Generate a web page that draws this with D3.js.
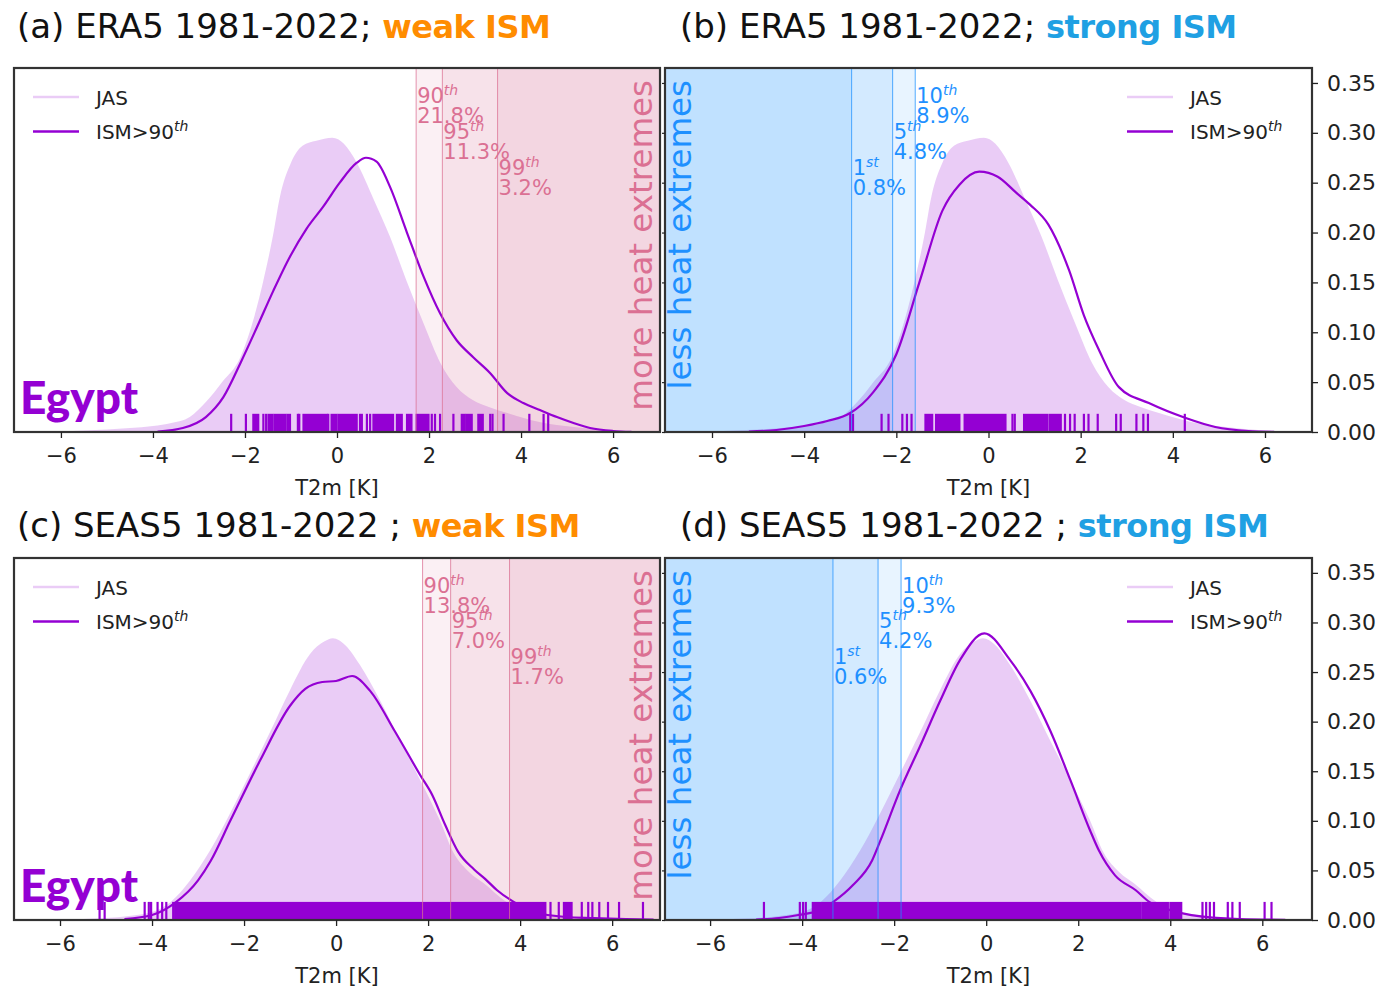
<!DOCTYPE html>
<html>
<head>
<meta charset="utf-8">
<script src="https://cdn.jsdelivr.net/npm/d3@7"></script>
<style>
  html, body { margin: 0; padding: 0; background: #fff; }
  svg { display: block; }
</style>
</head>
<body>
<svg id="chart" width="1384" height="995"></svg>
<script>
// ---------------- data ----------------
const xTicks = [-6, -4, -2, 0, 2, 4, 6];
const yTicks = [0, 0.05, 0.10, 0.15, 0.20, 0.25, 0.30, 0.35];

const titleDatasets = ["(a) ERA5 1981-2022; ", "(b) ERA5 1981-2022; ", "(c) SEAS5 1981-2022 ; ", "(d) SEAS5 1981-2022 ; "];
const titleRegimes = ["weak ISM", "strong ISM", "weak ISM", "strong ISM"];
const regionName = "Egypt";
const legendLabels = ["JAS", "ISM>90"];
const xLabel = "T2m [K]";

// ERA5 JAS T2m anomaly density (panels a, b)
const era5JasT = [-6.5, -6.0, -5.5, -5.0, -4.5, -4.0, -3.6, -3.2, -2.85, -2.5, -2.1, -1.9, -1.6, -1.4, -1.24, -1.0, -0.75, -0.45, -0.1, 0.15, 0.43, 0.8, 1.15, 1.5, 1.88, 2.25, 2.6, 2.95, 3.3, 3.7, 4.4, 5.15, 5.85, 6.5];
const era5JasDensity = [0.0003, 0.0008, 0.0015, 0.0025, 0.004, 0.006, 0.009, 0.015, 0.03, 0.05, 0.075, 0.10, 0.152, 0.195, 0.236, 0.27, 0.287, 0.292, 0.295, 0.289, 0.27, 0.233, 0.196, 0.153, 0.109, 0.069, 0.045, 0.032, 0.025, 0.019, 0.010, 0.005, 0.002, 0.0005];

// ERA5, weak ISM years
const era5WeakT = [-3.9, -3.35, -2.85, -2.47, -2.1, -1.74, -1.38, -1.02, -0.66, -0.3, 0.06, 0.43, 0.63, 0.86, 1.15, 1.52, 1.88, 2.24, 2.6, 2.96, 3.33, 3.7, 4.05, 4.41, 4.78, 5.14, 5.5, 6.0, 6.4];
const era5WeakDensity = [0.0005, 0.004, 0.015, 0.035, 0.069, 0.105, 0.142, 0.176, 0.204, 0.226, 0.25, 0.27, 0.275, 0.271, 0.246, 0.2, 0.156, 0.119, 0.092, 0.075, 0.059, 0.039, 0.029, 0.022, 0.015, 0.009, 0.004, 0.001, 0.0002];

// ERA5, strong ISM years
const era5StrongT = [-5.2, -4.6, -4.0, -3.5, -3.0, -2.5, -2.0, -1.5, -1.0, -0.63, -0.2, 0.2, 0.6, 0.9, 1.3, 1.75, 2.07, 2.4, 2.83, 3.48, 4.28, 4.92, 5.64, 6.2];
const era5StrongDensity = [0.0005, 0.002, 0.006, 0.011, 0.019, 0.04, 0.078, 0.15, 0.222, 0.248, 0.261, 0.256, 0.24, 0.228, 0.208, 0.162, 0.117, 0.082, 0.045, 0.029, 0.014, 0.005, 0.001, 0.0002];

// SEAS5 JAS T2m anomaly density (panels c, d)
const seas5JasT = [-6.5, -5.5, -5.0, -4.5, -4.0, -3.6, -3.17, -2.74, -2.3, -1.87, -1.43, -1.0, -0.57, -0.25, -0.07, 0.2, 0.52, 0.96, 1.39, 1.83, 2.26, 2.55, 2.9, 3.21, 3.71, 4.2, 5.0, 6.0, 6.8];
const seas5JasDensity = [0.0003, 0.001, 0.002, 0.004, 0.008, 0.018, 0.04, 0.07, 0.108, 0.148, 0.19, 0.232, 0.268, 0.281, 0.284, 0.277, 0.257, 0.221, 0.181, 0.141, 0.10, 0.068, 0.048, 0.037, 0.018, 0.008, 0.003, 0.001, 0.0003];

// SEAS5, weak ISM members
const seas5WeakT = [-4.6, -4.0, -3.48, -3.0, -2.72, -2.3, -1.65, -1.0, -0.67, -0.3, 0.0, 0.35, 0.74, 1.28, 1.83, 2.09, 2.37, 2.65, 3.0, 3.25, 3.5, 3.87, 4.3, 5.0, 5.6, 6.3, 6.9];
const seas5WeakDensity = [0.001, 0.005, 0.018, 0.04, 0.06, 0.10, 0.161, 0.216, 0.233, 0.24, 0.241, 0.246, 0.231, 0.19, 0.146, 0.126, 0.096, 0.069, 0.051, 0.041, 0.03, 0.018, 0.008, 0.003, 0.002, 0.001, 0.0003];

// SEAS5, strong ISM members
const seas5StrongT = [-5.0, -4.5, -4.08, -3.6, -3.33, -2.9, -2.48, -2.3, -1.87, -1.43, -1.0, -0.57, -0.04, 0.52, 0.96, 1.39, 1.83, 2.26, 2.45, 2.8, 3.25, 3.55, 4.0, 4.46, 5.5, 6.5];
const seas5StrongDensity = [0.0005, 0.002, 0.005, 0.01, 0.018, 0.035, 0.06, 0.08, 0.131, 0.176, 0.221, 0.262, 0.289, 0.262, 0.231, 0.191, 0.141, 0.09, 0.07, 0.045, 0.03, 0.018, 0.01, 0.005, 0.001, 0.0002];

// rug: isolated values and runs of values too dense to separate [from, to]
const rugTicksA = [-2.30, -1.98, -1.60, -1.54, -0.85, -0.82, -0.19, 0.50, 0.54, 0.65, 0.72, 2.06, 2.13, 2.24, 2.53, 3.33, 3.38, 3.62, 4.18, 4.49, 4.59];
const rugBandsA = [[-1.82, -1.71], [-1.49, -1.40], [-1.36, -1.12], [-1.08, -1.02], [-0.73, -0.22], [-0.12, -0.01], [0.03, 0.43], [0.79, 1.22], [1.30, 1.41], [1.52, 1.62], [1.73, 1.99], [2.71, 2.78], [2.82, 2.93], [3.07, 3.17]];
const rugTicksB = [-3.00, -2.94, -2.32, -2.17, -1.87, -1.77, -1.67, 0.52, 0.57, 1.66, 1.77, 1.87, 2.07, 2.17, 2.37, 2.77, 2.87, 3.21, 3.36, 3.46, 4.26];
const rugBandsB = [[-1.37, -1.22], [-1.14, -0.63], [-0.52, 0.37], [0.77, 1.27], [1.32, 1.57]];
const rugTicksC = [-5.14, -5.03, -4.16, -4.07, -4.02, -3.88, -3.78, -3.69, -3.54, 4.66, 4.84, 5.34, 5.48, 5.57, 5.72, 5.91, 6.15, 6.67];
const rugBandsC = [[-3.50, 4.55], [4.95, 5.12]];
const rugTicksD = [-4.83, -4.05, -3.98, -3.92, 4.70, 4.78, 4.86, 4.95, 5.25, 5.35, 5.51, 6.05, 6.20];
const rugBandsD = [[-3.77, 3.36], [3.40, 3.95], [4.00, 4.24]];

// percentile thresholds of the JAS distribution and share of ISM days beyond them
const pctWeakNames = ["90", "95", "99"];
const pctWeakSup = ["th", "th", "th"];
const pctStrongNames = ["10", "5", "1"];
const pctStrongSup = ["th", "th", "st"];
const pctValuesA = [1.72, 2.29, 3.49];
const pctSharesA = ["21.8%", "11.3%", "3.2%"];
const pctValuesB = [-1.59, -2.08, -2.97];
const pctSharesB = ["8.9%", "4.8%", "0.8%"];
const pctValuesC = [1.88, 2.49, 3.77];
const pctSharesC = ["13.8%", "7.0%", "1.7%"];
const pctValuesD = [-1.85, -2.35, -3.33];
const pctSharesD = ["9.3%", "4.2%", "0.6%"];

// ---------------- styling ----------------
const VIOLET = "#9400d3";
const PINK = "#db7093";
const BLUE = "#1e90ff";
const ORANGE = "#ff8c00";
const STRONG_TITLE = "#1fa0e3";
const FONT = "'DejaVu Sans', sans-serif";

const panels = [
  { box: { l: 14, r: 660, t: 68, b: 432 }, xDomain: [-7.02, 7.02], title: 0, titleX: 17, titleY: 38,
    kind: "weak", jas: [era5JasT, era5JasDensity], ism: [era5WeakT, era5WeakDensity],
    rugTicks: rugTicksA, rugBands: rugBandsA, pct: pctValuesA, shares: pctSharesA, region: true, yAxis: false },
  { box: { l: 665, r: 1312, t: 68, b: 432 }, xDomain: [-7.02, 7.02], title: 1, titleX: 680, titleY: 38,
    kind: "strong", jas: [era5JasT, era5JasDensity], ism: [era5StrongT, era5StrongDensity],
    rugTicks: rugTicksB, rugBands: rugBandsB, pct: pctValuesB, shares: pctSharesB, region: false, yAxis: true },
  { box: { l: 14, r: 660, t: 558, b: 920 }, xDomain: [-7.0, 7.04], title: 2, titleX: 17, titleY: 537,
    kind: "weak", jas: [seas5JasT, seas5JasDensity], ism: [seas5WeakT, seas5WeakDensity],
    rugTicks: rugTicksC, rugBands: rugBandsC, pct: pctValuesC, shares: pctSharesC, region: true, yAxis: false },
  { box: { l: 665, r: 1312, t: 558, b: 920 }, xDomain: [-6.98, 7.08], title: 3, titleX: 680, titleY: 537,
    kind: "strong", jas: [seas5JasT, seas5JasDensity], ism: [seas5StrongT, seas5StrongDensity],
    rugTicks: rugTicksD, rugBands: rugBandsD, pct: pctValuesD, shares: pctSharesD, region: false, yAxis: true }
];

const svg = d3.select("#chart");
const defs = svg.append("defs");

panels.forEach((p, i) => {
  const { l, r, t, b } = p.box;
  const x = d3.scaleLinear().domain(p.xDomain).range([l, r]);
  const y = d3.scaleLinear().domain([0, 0.365]).range([b, t]);
  const weak = p.kind === "weak";
  const accent = weak ? PINK : BLUE;

  defs.append("clipPath").attr("id", "clip" + i)
    .append("rect").attr("x", l).attr("y", t).attr("width", r - l).attr("height", b - t);

  // title
  const title = svg.append("text")
    .attr("x", p.titleX).attr("y", p.titleY)
    .attr("font-family", FONT).attr("font-size", 34).attr("fill", "#111");
  title.append("tspan").text(titleDatasets[p.title]);
  title.append("tspan").attr("font-weight", "bold").attr("font-size", 32).attr("letter-spacing", -0.5)
    .attr("fill", weak ? ORANGE : STRONG_TITLE).text(titleRegimes[p.title]);

  const g = svg.append("g").attr("clip-path", `url(#clip${i})`);

  // JAS density (filled)
  const jasPts = p.jas[0].map((v, k) => [v, p.jas[1][k]]);
  g.append("path").datum(jasPts)
    .attr("fill", VIOLET).attr("fill-opacity", 0.2)
    .attr("d", d3.area().curve(d3.curveMonotoneX)
      .x(d => x(d[0])).y0(y(0)).y1(d => y(d[1])));

  // shaded tails beyond each percentile threshold
  p.pct.forEach(v => {
    const x0 = weak ? x(v) : l;
    const x1 = weak ? r : x(v);
    g.append("rect").attr("x", x0).attr("y", t).attr("width", x1 - x0).attr("height", b - t)
      .attr("fill", accent).attr("fill-opacity", 0.1);
  });

  // ISM > 90th density (line)
  const ismPts = p.ism[0].map((v, k) => [v, p.ism[1][k]]);
  g.append("path").datum(ismPts)
    .attr("fill", "none").attr("stroke", VIOLET).attr("stroke-width", 2.2)
    .attr("d", d3.line().curve(d3.curveMonotoneX).x(d => x(d[0])).y(d => y(d[1])));

  // rug
  const rugH = (b - t) * 0.05;
  g.selectAll(null).data(p.rugBands).join("rect")
    .attr("x", d => x(d[0]) - 1).attr("width", d => x(d[1]) - x(d[0]) + 2)
    .attr("y", b - rugH).attr("height", rugH).attr("fill", VIOLET);
  g.selectAll(null).data(p.rugTicks).join("line")
    .attr("x1", d => x(d)).attr("x2", d => x(d))
    .attr("y1", b - rugH).attr("y2", b)
    .attr("stroke", VIOLET).attr("stroke-width", 2.2);

  // percentile threshold lines
  p.pct.forEach(v => {
    g.append("line").attr("x1", x(v)).attr("x2", x(v)).attr("y1", t).attr("y2", b)
      .attr("stroke", accent).attr("stroke-opacity", 0.75).attr("stroke-width", 1);
  });

  // percentile labels
  const names = weak ? pctWeakNames : pctStrongNames;
  const sups = weak ? pctWeakSup : pctStrongSup;
  const levels = [0.31, 0.274, 0.238];
  p.pct.forEach((v, k) => {
    const lx = x(v) + 1;
    const ly = y(levels[k]);
    const t1 = svg.append("text").attr("x", lx).attr("y", ly - 20)
      .attr("font-family", FONT).attr("font-size", 21).attr("fill", accent);
    t1.append("tspan").text(names[k]);
    t1.append("tspan").attr("dy", -8).attr("font-size", 14).attr("font-style", "italic").text(sups[k]);
    svg.append("text").attr("x", lx).attr("y", ly)
      .attr("font-family", FONT).attr("font-size", 21).attr("fill", accent)
      .text(p.shares[k]);
  });

  // vertical side label
  const vx = weak ? r - 8 : l + 26;
  svg.append("text")
    .attr("transform", `translate(${vx},${t + 12}) rotate(-90)`)
    .attr("text-anchor", "end")
    .attr("font-family", FONT).attr("font-size", 32.5).attr("fill", accent)
    .text(weak ? "more heat extremes" : "less heat extremes");

  // legend
  const lgX = weak ? l + 19 : r - 185;
  const lgTx = weak ? l + 82 : r - 122;
  const lg = svg.append("g");
  [[t + 29, VIOLET, 0.2, legendLabels[0], false], [t + 63.5, VIOLET, 1, legendLabels[1], true]].forEach(row => {
    lg.append("line").attr("x1", lgX).attr("x2", lgX + 46).attr("y1", row[0]).attr("y2", row[0])
      .attr("stroke", row[1]).attr("stroke-opacity", row[2]).attr("stroke-width", 2.6);
    const tx = lg.append("text").attr("x", lgTx).attr("y", row[0] + 7.5)
      .attr("font-family", FONT).attr("font-size", 20).attr("fill", "#222");
    tx.append("tspan").text(row[3]);
    if (row[4]) tx.append("tspan").attr("dy", -8).attr("font-size", 14).attr("font-style", "italic").text("th");
  });

  // region label
  if (p.region) {
    svg.append("text").attr("x", l + 6).attr("y", b - 18)
      .attr("font-family", "Lato, 'DejaVu Sans', sans-serif").attr("font-weight", 900)
      .attr("font-size", 46).attr("fill", VIOLET).text(regionName);
  }

  // frame
  svg.append("rect").attr("x", l).attr("y", t).attr("width", r - l).attr("height", b - t)
    .attr("fill", "none").attr("stroke", "#333").attr("stroke-width", 2.2);

  // x axis
  const xAxis = svg.append("g").attr("transform", `translate(0,${b})`)
    .call(d3.axisBottom(x).tickValues(xTicks).tickSize(6).tickPadding(10)
      .tickFormat(d => d < 0 ? "\u2212" + Math.abs(d) : String(d)));
  xAxis.select(".domain").remove();
  xAxis.selectAll("line").attr("stroke", "#222").attr("stroke-width", 1.3);
  xAxis.selectAll("text").attr("font-family", FONT).attr("font-size", 21).attr("fill", "#222");
  svg.append("text").attr("x", (l + r) / 2).attr("y", b + 63).attr("text-anchor", "middle")
    .attr("font-family", FONT).attr("font-size", 21).attr("fill", "#222").text(xLabel);

  // y axis on the right panels
  if (p.yAxis) {
    const yAxis = svg.append("g").attr("transform", `translate(${r},0)`)
      .call(d3.axisRight(y).tickValues(yTicks).tickSize(6).tickPadding(9).tickFormat(d3.format(".2f")));
    yAxis.select(".domain").remove();
    yAxis.selectAll("line").attr("stroke", "#222").attr("stroke-width", 1.3);
    yAxis.selectAll("text").attr("font-family", FONT).attr("font-size", 22).attr("fill", "#222");
    const yl = svg.append("g").attr("transform", `translate(${l},0)`)
      .call(d3.axisLeft(y).tickValues(yTicks).tickSize(3).tickFormat(""));
    yl.select(".domain").remove();
    yl.selectAll("line").attr("stroke", "#222").attr("stroke-width", 1.2);
  }
});
</script>
</body>
</html>
